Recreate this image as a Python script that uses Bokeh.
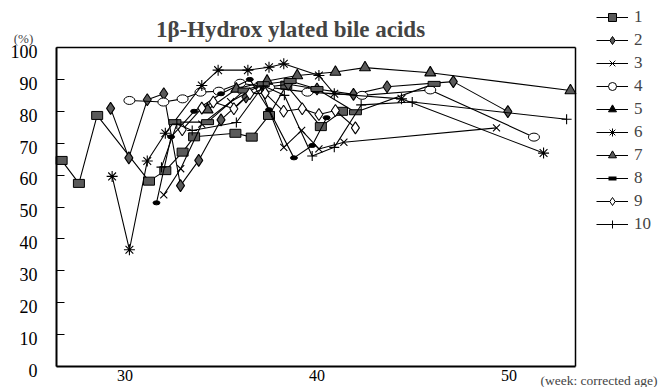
from bokeh.plotting import figure
from bokeh.models import (Range1d, FixedTicker, Label, Legend, LegendItem, LinearAxis,
                          CustomJSTickFormatter)
from bokeh.embed import file_html
from bokeh.resources import INLINE

# ---- data (week: corrected age, %) ----
s1_x = [26.7, 27.6, 28.55, 31.25, 32.1, 33.0, 33.6, 35.75, 36.6, 37.5, 38.4, 40.2, 41.3]
s1_y = [64.6, 57.4, 78.7, 58.1, 61.4, 67.2, 72.0, 73.1, 71.9, 78.7, 88.2, 75.2, 80.0]
s2_x = [29.25, 30.2, 31.16, 32.02, 32.89, 33.84, 35.0, 36.3, 37.3, 38.5, 40.0, 41.9, 43.65, 47.1, 49.94]
s2_y = [80.9, 65.4, 83.6, 85.5, 56.7, 64.6, 77.3, 84.5, 87.5, 88.5, 87.0, 85.3, 87.7, 89.3, 79.9]
s3_x = [32.02, 32.9, 34.0, 35.5, 37.0, 38.27, 39.2, 40.1, 41.4, 49.35]
s3_y = [53.8, 62.0, 76.0, 83.0, 88.0, 68.7, 74.0, 68.2, 70.3, 74.8]
s4_x = [30.23, 32.0, 33.0, 33.93, 34.89, 36.0, 37.5, 39.5, 42.35, 45.9, 51.3]
s4_y = [83.4, 82.9, 83.9, 86.0, 86.3, 88.8, 87.5, 86.0, 85.0, 86.7, 71.9]
s5_x = [31.64, 32.4, 33.6, 35.0, 36.5, 37.5, 38.8, 39.75, 40.5]
s5_y = [51.3, 72.0, 80.0, 85.5, 90.0, 80.5, 65.4, 69.3, 78.0]
s6_x = [29.33, 30.23, 31.16, 32.1, 34.0, 34.85, 36.4, 37.5, 38.27, 40.1, 40.9, 44.4, 51.8]
s6_y = [59.6, 36.6, 64.4, 73.1, 88.1, 92.9, 92.9, 93.8, 94.9, 91.2, 85.5, 83.9, 66.9]
s7_x = [34.3, 35.8, 37.4, 38.97, 40.96, 42.5, 45.9, 53.2]
s7_y = [80.5, 87.0, 89.5, 91.2, 92.3, 93.7, 92.1, 86.5]
s8_x = [32.6, 34.3, 36.2, 37.2, 38.6, 40.0, 42.0, 46.1]
s8_y = [76.6, 76.6, 86.5, 88.5, 89.5, 87.0, 79.7, 88.6]
s9_x = [32.98, 34.0, 34.6, 35.67, 36.5, 37.3, 38.26, 39.23, 40.1, 40.96, 42.0]
s9_y = [74.2, 81.0, 82.9, 80.8, 85.5, 85.7, 80.0, 80.8, 79.0, 80.25, 74.8]
s10_x = [31.9, 32.7, 33.5, 35.8, 37.2, 38.3, 39.75, 40.9, 42.3, 44.96, 53.0]
s10_y = [62.5, 76.0, 74.0, 76.5, 88.0, 85.0, 66.0, 68.7, 82.0, 82.9, 77.5]

names = ["1", "2", "3", "4", "5", "6", "7", "8", "9", "10"]
y_ticks = [0, 10, 20, 30, 40, 50, 60, 70, 80, 90, 100]
x_ticks = [30, 40, 50]
x_box = (26.43, 53.46)   # visible plot box (weeks)
y_box = (0, 100)

SERIF = "Liberation Serif"
W, H = 667, 387
PXW = 19.2          # px per week
PXY = 3.19          # px per %
x0 = 30 - 124.5 / PXW
x1 = 30 + (W - 124.5) / PXW
y1 = 100 + 47 / PXY
y0 = -(H - 366) / PXY

p = figure(width=W, height=H, output_backend="svg", toolbar_location=None,
           x_range=Range1d(x0, x1), y_range=Range1d(y0, y1),
           x_axis_type=None, y_axis_type=None, min_border=0)
p.grid.visible = False
p.outline_line_color = None
p.background_fill_color = "white"
p.border_fill_color = "white"

def mk_axis(loc, fixed, ticks, bounds, width):
    ax = LinearAxis(fixed_location=fixed, bounds=bounds,
                    ticker=FixedTicker(ticks=ticks))
    ax.axis_line_width = width
    ax.axis_line_color = "black"
    ax.minor_tick_line_color = None
    ax.major_label_text_font = SERIF
    ax.major_label_text_font_size = "17px"
    ax.major_label_text_color = "black"
    if not ticks:
        ax.major_tick_line_color = None
        ax.major_label_text_alpha = 0
    p.add_layout(ax, loc)
    return ax

# y axis: line + inward ticks, no labels
ya = mk_axis("left", x_box[0], y_ticks, y_box, 2)
ya.major_tick_in = 8
ya.major_tick_out = 0
ya.major_label_text_alpha = 0
# y tick labels (sit a few px below their ticks, as in the original)
LAB_SHIFT = 1.2
yl = LinearAxis(fixed_location=x_box[0], bounds=y_box,
                ticker=FixedTicker(ticks=[t - LAB_SHIFT for t in y_ticks]),
                formatter=CustomJSTickFormatter(code="return Math.round(tick + %s).toString()" % LAB_SHIFT))
yl.axis_line_color = None
yl.major_tick_line_color = None
yl.minor_tick_line_color = None
yl.major_label_standoff = 13
yl.major_label_text_font = SERIF
yl.major_label_text_font_size = "18px"
yl.major_label_text_color = "black"
p.add_layout(yl, "left")

xa = mk_axis("below", 0, x_ticks, x_box, 2)
xa.major_tick_in = 0
xa.major_tick_out = 0
xa.major_label_standoff = 3
xa.major_label_text_font_size = "16px"
mk_axis("above", 100, [], x_box, 1.5)
mk_axis("right", x_box[1], [], y_box, 1.5)

DARK = "#5a5a5a"
NAN = [float("nan")]
items = []

def add(xs, ys, name, kind, leg):
    p.line(xs, ys, line_color="black", line_width=1.1)
    if kind == "rect":
        p.rect(xs, ys, width=11, height=8, width_units="screen", height_units="screen",
               fill_color=DARK, line_color="black", line_width=1)
    elif kind == "flat":
        p.rect(xs, ys, width=12, height=5, width_units="screen", height_units="screen",
               fill_color=DARK, line_color="black", line_width=1)
    elif kind == "oval":
        p.ellipse(xs, ys, width=11, height=8, width_units="screen", height_units="screen",
                  fill_color="white", line_color="black", line_width=1)
    elif kind == "small":
        p.ellipse(xs, ys, width=7, height=4, width_units="screen", height_units="screen",
                  fill_color="black", line_color="black", line_width=1)
    else:
        marker, fill, size = kind
        p.scatter(xs, ys, marker=marker, size=size, fill_color=fill,
                  line_color="black", line_width=1.1)
    # legend sample renderers (a single undrawable point each)
    lm, lf, ls, lw = leg
    r_l = p.line(NAN, NAN, line_color="black", line_width=1.1)
    r_s = p.scatter(NAN, NAN, marker=lm, size=ls, fill_color=lf, line_color="black",
                    line_width=lw)
    items.append(LegendItem(label=name, renderers=[r_l, r_s]))

add(s1_x, s1_y, names[0], "rect", ("square", DARK, 7, 1))
add(s2_x, s2_y, names[1], ("diamond", DARK, 12), ("diamond", DARK, 8, 1))
add(s3_x, s3_y, names[2], ("x", None, 10), ("x", None, 7, 1))
add(s4_x, s4_y, names[3], "oval", ("circle", "white", 7, 1))
add(s5_x, s5_y, names[4], "small", ("triangle", "black", 5, 1))
add(s6_x, s6_y, names[5], ("asterisk", None, 11), ("asterisk", None, 7, 1))
add(s7_x, s7_y, names[6], ("triangle", DARK, 11), ("triangle", DARK, 8, 1))
add(s8_x, s8_y, names[7], "flat", ("dash", DARK, 9, 4))
add(s9_x, s9_y, names[8], ("diamond", "white", 12), ("diamond", "white", 8, 1))
add(s10_x, s10_y, names[9], ("cross", None, 10), ("cross", None, 7, 1))

leg_h = 10 * 20 + 9 * 3
legend = Legend(items=items, location=(596, H - 7 - leg_h), glyph_width=32, glyph_height=20,
                label_height=20, spacing=3, padding=0, margin=0, label_standoff=6,
                border_line_color=None, background_fill_alpha=0,
                label_text_font=SERIF, label_text_font_size="17px")
p.add_layout(legend, "center")

p.add_layout(Label(x=290, y=H - 29, x_units="screen", y_units="screen",
                   text="1β-Hydrox ylated bile acids", text_font=SERIF,
                   text_font_size="23px", text_font_style="bold", text_align="center",
                   text_baseline="middle"))
p.add_layout(Label(x=23, y=H - 38, x_units="screen", y_units="screen", text="(%)",
                   text_font=SERIF, text_font_size="13px", text_align="center",
                   text_baseline="middle"))
p.add_layout(Label(x=540, y=H - 380, x_units="screen", y_units="screen",
                   text="(week: corrected age)", text_font=SERIF, text_font_size="13.5px",
                   text_align="left", text_baseline="middle"))

open("out.html", "w").write(file_html(p, INLINE))
